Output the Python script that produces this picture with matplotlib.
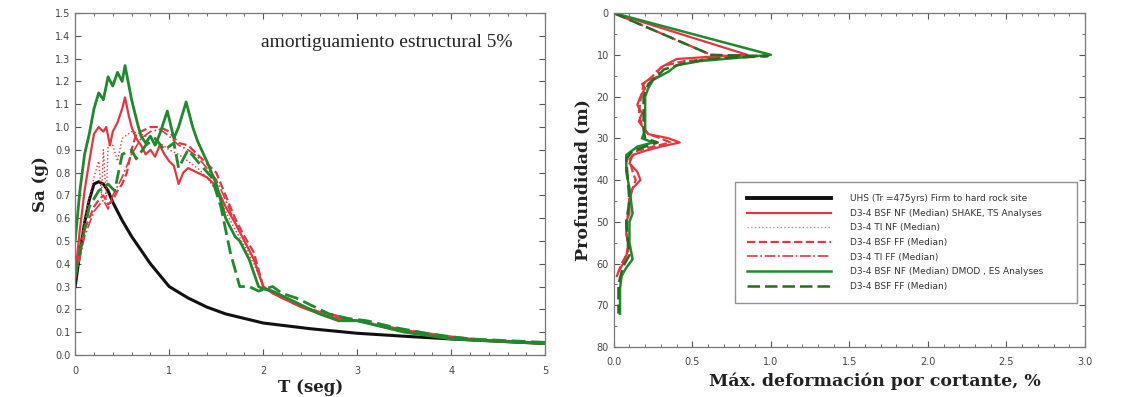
import matplotlib
matplotlib.use("Agg")
import matplotlib.pyplot as plt
from matplotlib.ticker import MultipleLocator, FormatStrFormatter

# ---------------- data: left panel (spectra) ----------------
T_uhs = [0, 0.05, 0.1, 0.15, 0.2, 0.25, 0.3, 0.35, 0.4, 0.5, 0.6, 0.7, 0.8, 0.9, 1.0,
         1.2, 1.4, 1.6, 1.8, 2.0, 2.5, 3.0, 3.5, 4.0, 4.5, 5.0]
Sa_uhs = [0.30, 0.45, 0.58, 0.68, 0.75, 0.76, 0.75, 0.72, 0.67, 0.59, 0.52, 0.46, 0.40, 0.35, 0.30,
          0.25, 0.21, 0.18, 0.16, 0.14, 0.115, 0.095, 0.082, 0.07, 0.06, 0.05]

T_r_nf = [0, 0.05, 0.1, 0.15, 0.2, 0.25, 0.3, 0.33, 0.37, 0.4, 0.45, 0.5, 0.53, 0.57, 0.6, 0.65,
          0.7, 0.75, 0.8, 0.85, 0.9, 0.95, 1.0, 1.05, 1.1, 1.15, 1.2, 1.3, 1.4, 1.5, 1.6, 1.7,
          1.8, 1.9, 2.0, 2.1, 2.2, 2.4, 2.6, 2.8, 3.0, 3.3, 3.6, 4.0, 4.5, 5.0]
Sa_r_nf = [0.35, 0.55, 0.72, 0.85, 0.97, 1.0, 0.98, 1.0, 0.92, 0.98, 1.02, 1.08, 1.13, 1.05, 1.0, 0.95,
           0.92, 0.88, 0.90, 0.87, 0.92, 0.88, 0.85, 0.83, 0.75, 0.80, 0.82, 0.80, 0.78, 0.74, 0.65, 0.58,
           0.50, 0.42, 0.30, 0.27, 0.25, 0.21, 0.18, 0.16, 0.15, 0.12, 0.10, 0.07, 0.06, 0.05]

T_r_tinf = [0, 0.1, 0.2, 0.25, 0.28, 0.3, 0.33, 0.35, 0.4, 0.45, 0.5, 0.6, 0.7, 0.8, 0.9, 1.0, 1.1,
            1.2, 1.3, 1.4, 1.5, 1.6, 1.7, 1.8, 1.9, 2.0, 2.2, 2.5, 3.0, 3.5, 4.0, 4.5, 5.0]
Sa_r_tinf = [0.35, 0.6, 0.78, 0.85, 0.70, 0.90, 0.68, 0.92, 0.92, 0.85, 0.95, 0.98, 0.97, 0.95, 0.93,
             0.90, 0.88, 0.85, 0.82, 0.78, 0.72, 0.63, 0.55, 0.48, 0.40, 0.30, 0.26, 0.20, 0.15, 0.11,
             0.08, 0.06, 0.05]

T_r_ff = [0, 0.1, 0.2, 0.25, 0.3, 0.35, 0.4, 0.45, 0.5, 0.55, 0.6, 0.65, 0.7, 0.8, 0.9, 1.0, 1.1,
          1.2, 1.3, 1.4, 1.5, 1.6, 1.7, 1.8, 1.9, 2.0, 2.2, 2.5, 3.0, 3.5, 4.0, 4.5, 5.0]
Sa_r_ff = [0.35, 0.55, 0.65, 0.68, 0.70, 0.66, 0.68, 0.72, 0.75, 0.80, 0.90, 0.97, 0.98, 1.0, 1.0,
           0.98, 0.93, 0.92, 0.88, 0.84, 0.80, 0.70, 0.60, 0.52, 0.45, 0.30, 0.25, 0.20, 0.15, 0.11,
           0.08, 0.06, 0.05]

T_r_tiff = [0, 0.1, 0.2, 0.3, 0.35, 0.4, 0.5, 0.6, 0.7, 0.8, 0.9, 1.0, 1.1, 1.2, 1.3, 1.4, 1.5,
            1.6, 1.7, 1.8, 1.9, 2.0, 2.2, 2.5, 3.0, 3.5, 4.0, 4.5, 5.0]
Sa_r_tiff = [0.33, 0.52, 0.63, 0.68, 0.64, 0.70, 0.78, 0.88, 0.95, 0.98, 0.99, 0.96, 0.92, 0.90, 0.87,
             0.82, 0.77, 0.68, 0.58, 0.50, 0.42, 0.30, 0.25, 0.20, 0.15, 0.11, 0.08, 0.06, 0.05]

T_g_nf = [0, 0.05, 0.1, 0.15, 0.2, 0.25, 0.3, 0.35, 0.4, 0.45, 0.5, 0.53, 0.6, 0.66, 0.7, 0.75, 0.8,
          0.85, 0.9, 0.98, 1.05, 1.1, 1.18, 1.25, 1.3, 1.4, 1.5, 1.6, 1.7, 1.75, 1.85, 1.95, 2.0,
          2.1, 2.2, 2.4, 2.6, 2.8, 3.0, 3.2, 3.5, 4.0, 4.5, 5.0]
Sa_g_nf = [0.50, 0.72, 0.88, 0.97, 1.08, 1.15, 1.12, 1.22, 1.18, 1.24, 1.20, 1.27, 1.12, 1.02, 0.96,
           0.93, 0.96, 0.92, 0.97, 1.07, 0.95, 1.00, 1.11, 1.00, 0.94, 0.85, 0.75, 0.60, 0.52, 0.50,
           0.42, 0.30, 0.29, 0.28, 0.26, 0.22, 0.18, 0.15, 0.15, 0.13, 0.10, 0.07, 0.06, 0.05]

T_g_ff = [0, 0.15, 0.25, 0.35, 0.42, 0.5, 0.6, 0.65, 0.75, 0.85, 0.95, 1.05, 1.1, 1.2, 1.3, 1.45,
          1.55, 1.65, 1.75, 1.85, 1.95, 2.1, 2.2, 2.35, 2.5, 2.7, 2.9, 3.1, 3.4, 3.8, 4.2, 5.0]
Sa_g_ff = [0.35, 0.65, 0.72, 0.75, 0.72, 0.88, 0.90, 0.86, 0.92, 0.95, 0.90, 0.93, 0.82, 0.90, 0.85,
           0.78, 0.65, 0.45, 0.30, 0.30, 0.28, 0.30, 0.27, 0.25, 0.22, 0.18, 0.16, 0.15, 0.12, 0.09,
           0.07, 0.055]

# ---------------- data: right panel (shear strain profile) ----------------
z_r_nf = [0, 10, 10.5, 11, 12, 13, 14, 15, 16, 17, 18, 20, 22, 24, 26, 28, 29, 30, 31, 32, 33, 34,
          36, 38, 40, 42, 45, 48, 50, 53, 56, 58, 60, 62, 63]
g_r_nf = [0, 0.85, 0.60, 0.40, 0.35, 0.30, 0.28, 0.30, 0.22, 0.18, 0.20, 0.17, 0.15, 0.18, 0.16, 0.20,
          0.22, 0.35, 0.42, 0.30, 0.20, 0.12, 0.10, 0.15, 0.17, 0.12, 0.10, 0.10, 0.08, 0.08, 0.10,
          0.08, 0.06, 0.03, 0.02]

z_r_ff = [0, 10, 10.5, 11.5, 12.5, 14, 15, 17, 19, 21, 24, 27, 29, 30, 31, 32, 33, 35, 38, 40, 44,
          48, 52, 56, 58, 60, 62]
g_r_ff = [0, 0.62, 0.80, 0.45, 0.33, 0.27, 0.25, 0.19, 0.18, 0.17, 0.16, 0.18, 0.22, 0.30, 0.36,
          0.25, 0.15, 0.10, 0.12, 0.14, 0.10, 0.09, 0.08, 0.09, 0.08, 0.05, 0.03]

z_g_nf = [0, 10, 11.5, 12.5, 14, 15, 16, 18, 20, 25, 28, 30, 31, 32, 34, 38, 42, 48, 50, 55, 59,
          61, 63, 66, 72]
g_g_nf = [0, 1.0, 0.55, 0.40, 0.35, 0.30, 0.25, 0.22, 0.20, 0.20, 0.20, 0.18, 0.25, 0.15, 0.08,
          0.08, 0.10, 0.12, 0.10, 0.10, 0.12, 0.08, 0.05, 0.04, 0.04]

z_g_ff = [0, 10, 10.3, 11, 12, 13.5, 15, 17, 20, 24, 28, 30, 31, 33, 35, 40, 45, 50, 55, 58, 60,
          62, 65, 70, 72]
g_g_ff = [0, 0.62, 0.98, 0.60, 0.45, 0.32, 0.28, 0.22, 0.19, 0.19, 0.19, 0.20, 0.28, 0.12, 0.08,
          0.09, 0.10, 0.08, 0.09, 0.10, 0.07, 0.05, 0.03, 0.03, 0.03]

legend_labels = [
    "UHS (Tr =475yrs) Firm to hard rock site",
    "D3-4 BSF NF (Median) SHAKE, TS Analyses",
    "D3-4 TI NF (Median)",
    "D3-4 BSF FF (Median)",
    "D3-4 TI FF (Median)",
    "D3-4 BSF NF (Median) DMOD , ES Analyses",
    "D3-4 BSF FF (Median)",
]

RED = "#e8343f"
GREEN = "#1e8a2c"
BLACK = "#111111"
TICKC = "#555555"

serif = ["Liberation Serif", "DejaVu Serif"]
label_font = dict(family=["DejaVu Serif"], fontweight="bold", color="#222222")

fig = plt.figure(figsize=(11.22, 3.97), dpi=100)
ax1 = fig.add_axes([0.067, 0.106, 0.419, 0.861])
ax2 = fig.add_axes([0.547, 0.126, 0.420, 0.841])


def style_axes(ax):
    for s in ax.spines.values():
        s.set_color("#777777")
        s.set_linewidth(0.9)
    ax.tick_params(which="both", direction="in", top=True, right=True, colors=TICKC,
                   labelsize=7, labelcolor="#444444")
    ax.tick_params(which="major", length=4)
    ax.tick_params(which="minor", length=2)


# ---- left ----
ax1.plot(T_uhs, Sa_uhs, color=BLACK, lw=2.2)
ax1.plot(T_r_tinf, Sa_r_tinf, color=RED, lw=1.0, ls=":")
ax1.plot(T_r_tiff, Sa_r_tiff, color=RED, lw=1.2, ls="-.")
ax1.plot(T_r_ff, Sa_r_ff, color=RED, lw=1.6, ls="--")
ax1.plot(T_r_nf, Sa_r_nf, color=RED, lw=1.6)
ax1.plot(T_g_ff, Sa_g_ff, color=GREEN, lw=2.0, ls=(0, (5, 2)))
ax1.plot(T_g_nf, Sa_g_nf, color=GREEN, lw=2.0)
ax1.set_xlim(0, 5)
ax1.set_ylim(0, 1.5)
ax1.xaxis.set_major_locator(MultipleLocator(1))
ax1.xaxis.set_minor_locator(MultipleLocator(0.2))
ax1.yaxis.set_major_locator(MultipleLocator(0.1))
ax1.yaxis.set_major_formatter(FormatStrFormatter("%.1f"))
style_axes(ax1)
ax1.tick_params(axis="x", which="major", pad=8)
ax1.set_xlabel("T (seg)", fontsize=12, labelpad=2, **label_font)
ax1.set_ylabel("Sa (g)", fontsize=12, labelpad=4, **label_font)
ax1.text(0.93, 0.915, "amortiguamiento estructural 5%", transform=ax1.transAxes,
         ha="right", va="center", family=serif, fontsize=14, color="#222222")

# ---- right ----
h = []
h += ax2.plot([], [], color=BLACK, lw=2.8)
h += ax2.plot(g_r_nf, z_r_nf, color=RED, lw=1.6)
h += ax2.plot([], [], color="#e87a90", lw=1.0, ls=":")
h += ax2.plot(g_r_ff, z_r_ff, color=RED, lw=1.6, ls="--")
h += ax2.plot([], [], color=RED, lw=1.2, ls="-.")
h += ax2.plot(g_g_nf, z_g_nf, color=GREEN, lw=1.8)
h += ax2.plot(g_g_ff, z_g_ff, color="#2a6a20", lw=1.8, ls=(0, (5, 2)))
ax2.set_xlim(0, 3.0)
ax2.set_ylim(80, 0)
ax2.xaxis.set_major_locator(MultipleLocator(0.5))
ax2.xaxis.set_minor_locator(MultipleLocator(0.1))
ax2.xaxis.set_major_formatter(FormatStrFormatter("%.1f"))
ax2.yaxis.set_major_locator(MultipleLocator(10))
ax2.yaxis.set_minor_locator(MultipleLocator(5))
style_axes(ax2)
ax2.tick_params(axis="x", which="major", pad=7)
ax2.set_xlabel("Máx. deformación por cortante, %", fontsize=12.5, labelpad=1, **label_font)
ax2.xaxis.set_label_coords(0.555, -0.075)
ax2.set_ylabel("Profundidad (m)", fontsize=12.5, labelpad=4, **label_font)
leg = ax2.legend(h, legend_labels, loc="upper left",
                 bbox_to_anchor=(0.257, 0.4955, 0.726, 0.0), mode="expand", borderaxespad=0,
                 fontsize=6.5, handlelength=9.2, frameon=True, fancybox=False,
                 borderpad=1.4, labelspacing=0.62, handletextpad=2.2)
leg.get_frame().set_edgecolor("#777777")
leg.get_frame().set_linewidth(1.0)
for t in leg.get_texts():
    t.set_color("#333333")

fig.savefig("out.png", dpi=100)
